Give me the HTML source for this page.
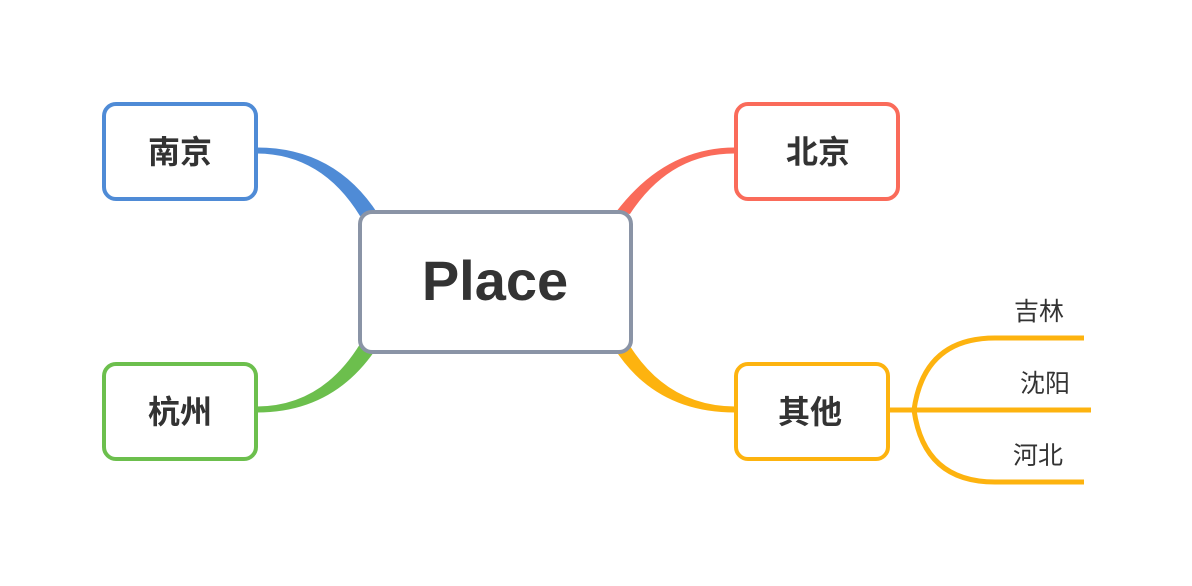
<!DOCTYPE html>
<html><head><meta charset="utf-8"><style>
html,body{margin:0;padding:0;background:#fff;}
svg{display:block}
text{font-family:"Liberation Sans","Noto Sans CJK SC",sans-serif;fill:#333}
</style></head><body>
<svg width="1192" height="586" viewBox="0 0 1192 586" xmlns="http://www.w3.org/2000/svg">
<!-- connectors -->
<path d="M257,147.5 Q335,147.5 378,214 L360,216 Q322,154 257,153.5 Z" fill="#4f8bd6"/>
<path d="M735,147.5 Q665,147.5 616,212 L630,214 Q670,153 735,153.5 Z" fill="#fa6b5a"/>
<path d="M257,412.5 Q335,412.5 378,346 L360,344 Q322,406 257,406.5 Z" fill="#6cbf4d"/>
<path d="M735,412.5 Q655,412.5 614,348 L630,346 Q668,406 735,406.5 Z" fill="#fdb30f"/>
<!-- sub branches -->
<g stroke="#fdb30f" stroke-width="5" fill="none">
<line x1="889" y1="410" x2="1091" y2="410"/>
<path d="M914,410 Q924,338 995,338 L1084,338"/>
<path d="M914,410 Q924,482 995,482 L1084,482"/>
</g>
<!-- boxes -->
<rect x="104" y="104" width="152" height="95" rx="12" fill="#fff" stroke="#4f8bd6" stroke-width="4"/>
<rect x="736" y="104" width="162" height="95" rx="12" fill="#fff" stroke="#fa6b5a" stroke-width="4"/>
<rect x="104" y="364" width="152" height="95" rx="12" fill="#fff" stroke="#6cbf4d" stroke-width="4"/>
<rect x="736" y="364" width="152" height="95" rx="12" fill="#fff" stroke="#fdb30f" stroke-width="4"/>
<rect x="360" y="212" width="271" height="140" rx="12" fill="#fff" stroke="#8a94a6" stroke-width="4"/>
<!-- labels -->
<text x="180" y="163" font-size="32" font-weight="bold" text-anchor="middle">南京</text>
<text x="818" y="163" font-size="32" font-weight="bold" text-anchor="middle">北京</text>
<text x="180" y="423" font-size="32" font-weight="bold" text-anchor="middle">杭州</text>
<text x="810" y="423" font-size="32" font-weight="bold" text-anchor="middle">其他</text>
<text x="495" y="300" font-size="56" font-weight="bold" text-anchor="middle">Place</text>
<text x="1039" y="320" font-size="25" text-anchor="middle">吉林</text>
<text x="1045" y="392" font-size="25" text-anchor="middle">沈阳</text>
<text x="1038" y="464" font-size="25" text-anchor="middle">河北</text>
</svg>
</body></html>
